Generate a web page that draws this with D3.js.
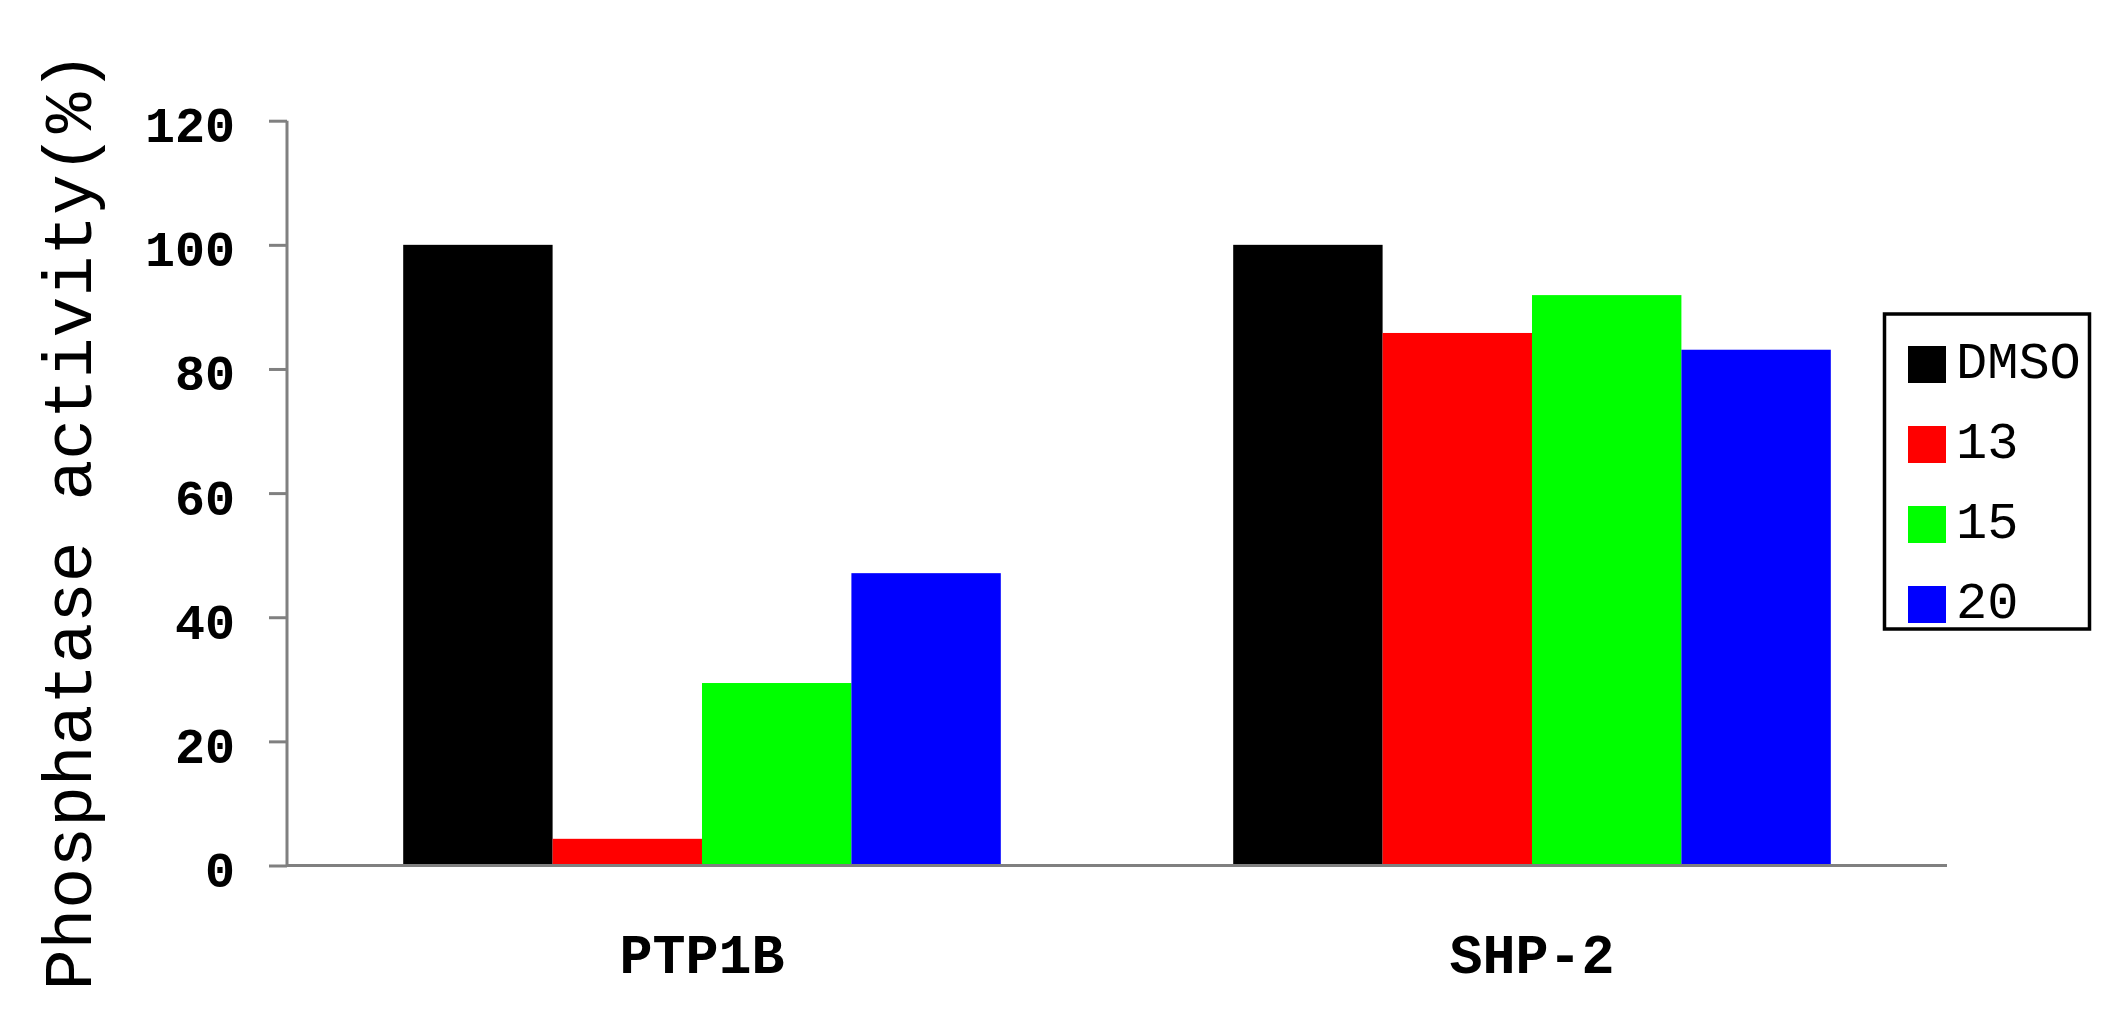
<!DOCTYPE html>
<html>
<head>
<meta charset="utf-8">
<script src="https://cdn.jsdelivr.net/npm/d3@7"></script>
<style>
  html, body { margin: 0; padding: 0; background: #fff; }
  svg { display: block; }
  text { font-family: "Liberation Mono", "DejaVu Sans Mono", monospace; fill: #000; }
</style>
</head>
<body>
<svg id="chart" width="2127" height="1033"></svg>
<script>
const categories = ["PTP1B", "SHP-2"];
const seriesNames = ["DMSO", "13", "15", "20"];
const seriesColors = ["#000000", "#ff0000", "#00ff00", "#0000ff"];
const valuesPTP1B = [100, 4.3, 29.4, 47.1];
const valuesSHP2 = [100, 85.8, 91.9, 83.1];
const yTicks = [0, 20, 40, 60, 80, 100, 120];
const yTitle = "Phosphatase activity(%)";

const groupValues = [valuesPTP1B, valuesSHP2];
const svg = d3.select("#chart");
svg.append("rect").attr("width", 2127).attr("height", 1033).attr("fill", "#fff");

const plot = { left: 287, right: 1947, top: 120.7, bottom: 865.5 };

const x0 = d3.scaleBand().domain(categories).range([plot.left, plot.right])
  .paddingInner(0.28).paddingOuter(0.14);
const x1 = d3.scaleBand().domain(seriesNames).range([0, x0.bandwidth()]).padding(0);
const y = d3.scaleLinear().domain([0, 120]).range([plot.bottom, plot.top]);

// bars
const groups = svg.append("g").selectAll("g")
  .data(categories.map((c, i) => ({ cat: c, vals: groupValues[i] })))
  .join("g")
  .attr("transform", d => `translate(${x0(d.cat)},0)`);

groups.selectAll("rect")
  .data(d => d.vals.map((v, j) => ({ name: seriesNames[j], v, color: seriesColors[j] })))
  .join("rect")
  .attr("x", d => x1(d.name))
  .attr("width", x1.bandwidth())
  .attr("y", d => y(d.v))
  .attr("height", d => y(0) - y(d.v))
  .attr("fill", d => d.color);

// y axis
const yAxis = d3.axisLeft(y).tickValues(yTicks).tickSize(18).tickPadding(34).tickFormat(d3.format("d"));
const yg = svg.append("g").attr("transform", `translate(${plot.left},0)`).call(yAxis);
yg.select(".domain").remove();
yg.append("line").attr("x1", 0).attr("x2", 0).attr("y1", plot.top).attr("y2", plot.bottom)
  .attr("stroke", "#808080").attr("stroke-width", 3);
yg.selectAll(".tick line").attr("stroke", "#808080").attr("stroke-width", 3);
yg.selectAll(".tick text")
  .attr("font-family", "'Liberation Mono', monospace")
  .attr("font-size", 50).attr("font-weight", "bold").attr("fill", "#000")
  .attr("dy", "0.42em");

// x axis baseline
const xAxis = d3.axisBottom(x0).tickSize(0).tickPadding(68);
const xg = svg.append("g").attr("transform", `translate(0,${plot.bottom})`).call(xAxis);
xg.select(".domain").attr("stroke", "#808080").attr("stroke-width", 3)
  .attr("d", `M${plot.left},0H${plot.right}`);
xg.selectAll(".tick text")
  .attr("font-family", "'Liberation Mono', monospace")
  .attr("font-size", 55).attr("font-weight", "bold").attr("fill", "#000")
  .attr("dy", "0.71em");

// y title
svg.append("text")
  .attr("transform", `translate(91,521) rotate(-90)`)
  .attr("text-anchor", "middle")
  .attr("font-size", 68)
  .text(yTitle);

// legend
const legend = svg.append("g");
legend.append("rect").attr("x", 1884.5).attr("y", 314).attr("width", 205).attr("height", 315)
  .attr("fill", "#fff").attr("stroke", "#000").attr("stroke-width", 3.5);
const items = legend.selectAll("g.item").data(seriesNames).join("g").attr("class", "item")
  .attr("transform", (d, i) => `translate(1908,${346 + i * 80})`);
items.append("rect").attr("width", 38).attr("height", 37).attr("fill", (d, i) => seriesColors[i]);
items.append("text").attr("x", 48).attr("y", 32).attr("font-size", 52).text(d => d);
</script>
</body>
</html>
